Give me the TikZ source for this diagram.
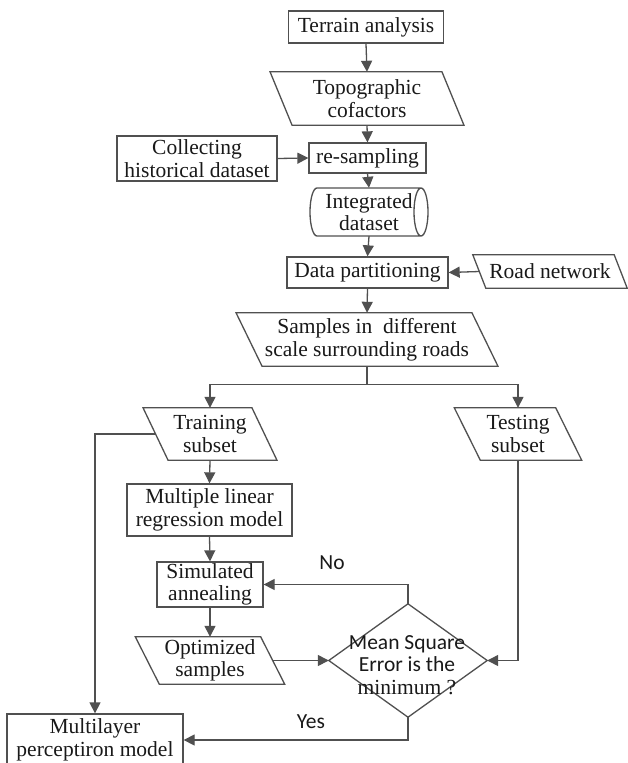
\documentclass[tikz,border=0pt]{standalone}
\usepackage{fontspec}
\setmainfont{Liberation Serif}
\newfontfamily\calib{Carlito}
\usetikzlibrary{arrows.meta,calc}
\definecolor{lncol}{RGB}{80,80,80}
\newcommand\parashape[2]{\draw[lncol,line width=1.3pt] ($(#1.north west)+(-#2,0)$) -- ($(#1.north east)+(-#2,0)$) -- ($(#1.south east)+(#2,0)$) -- ($(#1.south west)+(#2,0)$) -- cycle;}
\begin{document}
\begin{tikzpicture}[x=1pt,y=-1pt,
  txt/.style={font=\fontsize{21.5}{22.5}\selectfont, align=center, inner sep=0pt, text=black!90},
  box/.style={txt, draw=lncol, line width=1.3pt, rectangle},
  pbox/.style={txt, rectangle},
  arr/.style={draw=lncol, line width=1.3pt, -{Triangle[length=11pt,width=11pt]}},
  conn/.style={draw=lncol, line width=1.3pt},
  lbl/.style={font=\calib\fontsize{21.5}{22.5}\selectfont, inner sep=0pt, text=black!90}
]
\useasboundingbox (0,0) rectangle (627,763);
\fill[white] (0,0) rectangle (627,763);

% nodes
\node[box, minimum width=155pt, minimum height=32pt] (term) at (366,27) {Terrain analysis};
\node[pbox, minimum width=171.5pt, minimum height=53pt] (topo) at (367,98.5) {Topographic\\cofactors};
\parashape{topo}{11}
\node[box, minimum width=160pt, minimum height=45pt] (coll) at (197,158.5) {Collecting\\historical dataset};
\node[box, minimum width=117pt, minimum height=30pt] (resamp) at (367.5,158) {re-sampling};
\node[pbox, minimum width=118pt, minimum height=48pt] (integ) at (369,212) {Integrated\\dataset};
\draw[lncol,line width=1.3pt] (317,188) -- (421,188) (317,236) -- (421,236)
  (317,188) arc[start angle=90, end angle=270, x radius=7, y radius=-24]
  (421,212) ellipse[x radius=7, y radius=24];
\node[box, minimum width=161pt, minimum height=31pt] (dp) at (367.5,272.5) {Data partitioning};
\node[pbox, minimum width=141pt, minimum height=33pt] (rn) at (550,271.5) {Road network};
\parashape{rn}{6.5}
\node[pbox, minimum width=235.5pt, minimum height=53pt] (samp) at (367,339.5) {Samples in\ \ different\\scale surrounding roads};
\parashape{samp}{13}
\node[pbox, minimum width=108.5pt, minimum height=52pt] (tr) at (210,434) {Training\\subset};
\parashape{tr}{12.5}
\node[pbox, minimum width=101pt, minimum height=52pt] (te) at (518,434) {Testing\\subset};
\parashape{te}{13}
\node[box, minimum width=165pt, minimum height=52pt] (mlr) at (209.5,510) {Multiple linear\\regression model};
\node[box, minimum width=106pt, minimum height=45pt] (sa) at (210,584.5) {Simulated\\annealing};
\node[pbox, minimum width=125pt, minimum height=47pt] (opt) at (210,660.5) {Optimized\\samples};
\parashape{opt}{12}
\node[txt, minimum width=158pt, minimum height=113pt] (dia) at (408,660.5) {};
\draw[lncol,line width=1.3pt] (dia.north) -- (dia.east) -- (dia.south) -- (dia.west) -- cycle;
\node[txt] (diatext) at (407,665) {{\calib Mean Square}\\{\calib Error is the}\\minimum ?};
\node[box, minimum width=176pt, minimum height=52pt] (mlp) at (95,740) {Multilayer\\perceptiron model};
\node[lbl] (no) at (332,563) {No};
\node[lbl] (yes) at (311,722) {Yes};

% connectors
\draw[arr] (term.south) -- (topo.north);
\draw[arr] (topo.south) -- (resamp.north);
\draw[arr] (coll.east) -- (resamp.west);
\draw[arr] (resamp.south) -- (integ.north);
\draw[arr] (integ.south) -- (dp.north);
\draw[arr] (rn.west) -- (dp.east);
\draw[arr] (dp.south) -- (samp.north);
\draw[conn] (samp.south) -- ++(0,18) coordinate (split);
\draw[arr] (split) -| (tr.north);
\draw[arr] (split) -| (te.north);
\draw[arr] (tr.south) -- (mlr.north);
\draw[arr] (mlr.south) -- (sa.north);
\draw[arr] (sa.south) -- (opt.north);
\draw[arr] (tr.west) -| (mlp.north);
\draw[arr] (opt.east) -- (dia.west);
\draw[arr] (te.south) |- (dia.east);
\draw[arr] (dia.north) |- (sa.east);
\draw[arr] (dia.south) |- (mlp.east);
\end{tikzpicture}
\end{document}
